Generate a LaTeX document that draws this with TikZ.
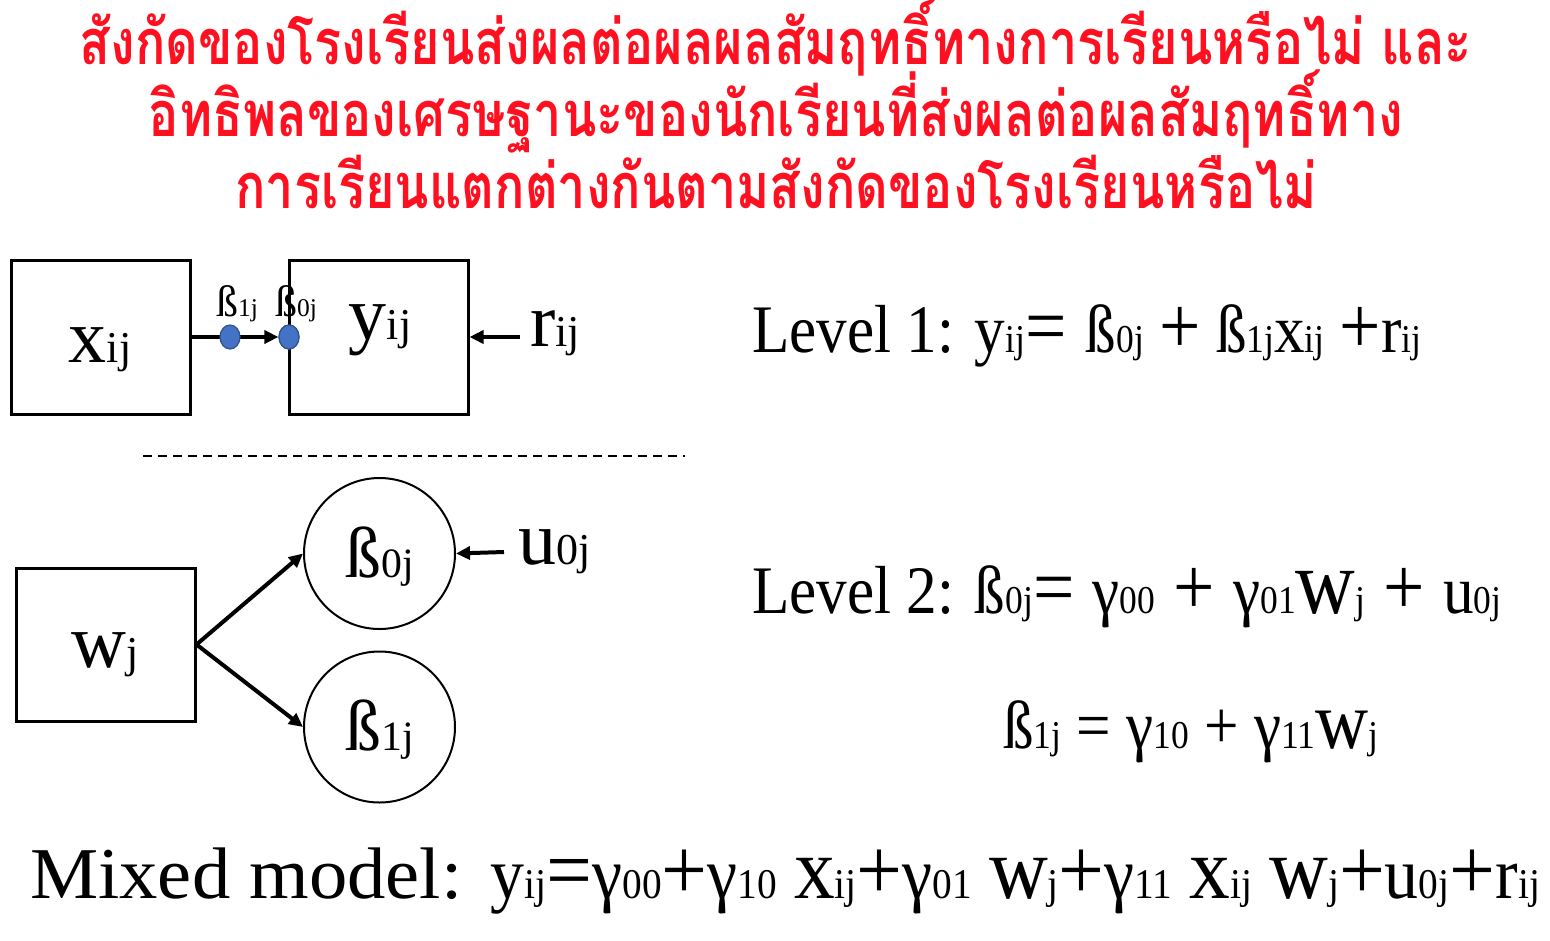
\documentclass[tikz,border=0pt]{standalone}
\usepackage{fontspec}
\usepackage{graphicx}
\setmainfont{Liberation Serif}
\newfontfamily\thaifont[Script=Thai,FakeStretch=0.8]{Loma}
\newfontfamily\eqfont[FakeStretch=0.9]{Liberation Serif}
\newfontfamily\mixfont[FakeStretch=0.93]{Liberation Serif}
\newfontfamily\mixlabfont[FakeStretch=1.05]{Liberation Serif}
\usetikzlibrary{arrows.meta,shapes.geometric}
\newcommand\sub[1]{\scalebox{0.58}{#1}}
\newcommand\bw[1]{\scalebox{1.2}{#1}}
\newcommand\bww[1]{\scalebox{1.35}{#1}}
\newcommand\op[1]{\raisebox{-0.02em}{\scalebox{1.2}{#1}}}
\definecolor{titlered}{HTML}{FF1020}
\definecolor{dotfill}{HTML}{4472C4}
\definecolor{dotline}{HTML}{2F528F}
\tikzset{
  titletext/.style={anchor=base,inner sep=0pt,text=titlered,font=\thaifont\bfseries\fontsize{63}{70}\selectfont},
  varbox/.style={draw,line width=3pt,minimum width=179pt,minimum height=154pt,inner sep=0pt},
  varcircle/.style={draw,circle,line width=2pt,minimum size=151pt,inner sep=0pt},
  bigvar/.style={font=\fontsize{76}{80}\selectfont,inner sep=0pt},
  smalllab/.style={font=\fontsize{44}{48}\selectfont,inner sep=0pt,anchor=base},
  dot/.style={ellipse,fill=dotfill,draw=dotline,line width=1.2pt,minimum width=20pt,minimum height=24pt,inner sep=0pt},
  arr/.style={line width=4pt,-{Triangle[length=14pt,width=13pt]}},
  eqtext/.style={anchor=base west,inner sep=0pt,font=\eqfont\fontsize{68}{72}\selectfont},
}
\begin{document}
\begin{tikzpicture}[x=1pt,y=-1pt]
\useasboundingbox (0,0) rectangle (1550,940);
% title
\node[titletext] (t1) at (776,64) {สังกัดของโรงเรียนส่งผลต่อผลผลสัมฤทธิ์ทางการเรียนหรือไม่ และ};
\node[titletext] (t2) at (776,136) {อิทธิพลของเศรษฐานะของนักเรียนที่ส่งผลต่อผลสัมฤทธิ์ทาง};
\node[titletext] (t3) at (776,208) {การเรียนแตกต่างกันตามสังกัดของโรงเรียนหรือไม่};
% level 1 diagram
\node[varbox] (x) at (100.5,337) {};
\node[bigvar] (xl) at (100,350) {x\sub{ij}};
\node[varbox] (y) at (378.5,337) {};
\node[bigvar] (yl) at (380,330) {y\sub{ij}};
\node[dot] (d2) at (289,337) {};
\draw[arr] (x.east) -- (d2.west);
\node[dot] (d1) at (230,337) {};
\node[dot] at (289,337) {};
\node[smalllab] (b1l) at (237,316) {ß\sub{1j}};
\node[smalllab] (b0l) at (296,316) {ß\sub{0j}};
\node[bigvar,anchor=west,inner xsep=0pt] (r) at (530,333) {r\sub{ij}};
\coordinate (rs) at (520,337);
\draw[arr] (rs) -- (y.east);
% separator
\coordinate (s1) at (143,456);
\coordinate (s2) at (685,456);
\draw[line width=2pt,dash pattern=on 9pt off 6pt] (s1) -- (s2);
% level 2 diagram
\node[varbox,minimum height=153pt] (w) at (105.5,644.5) {};
\node[bigvar] (wl) at (105,655) {w\sub{j}};
\node[varcircle] (b0) at (379.5,553.5) {};
\node[bigvar,font=\fontsize{72}{76}\selectfont] (b0t) at (379.5,557) {ß\sub{0j}};
\node[varcircle] (b1) at (379.5,727) {};
\node[bigvar,font=\fontsize{72}{76}\selectfont] (b1t) at (379.5,730) {ß\sub{1j}};
\draw[arr] (w.east) -- (b0.west);
\draw[arr] (w.east) -- (b1.west);
\node[bigvar,anchor=west] (u) at (518,552) {u\sub{0j}};
\coordinate (us) at (504,552);
\draw[arr] (us) -- (b0.east);
% equations
\node[eqtext] (e1) at (752,352) {Level 1: y\sub{ij}\op{=}\hspace{4pt} ß\sub{0j} \op{+} ß\sub{1j}x\sub{ij} \op{+}r\sub{ij}};
\node[eqtext] (e2) at (752,613) {Level 2: ß\sub{0j}\op{=}\hspace{3pt} γ\sub{00}\hspace{3pt} \op{+}\hspace{3pt} γ\sub{01}\bww{w}\sub{j}\hspace{3pt} \op{+}\hspace{3pt} u\sub{0j}};
\node[eqtext] (e3) at (1003,748) {ß\sub{1j} = γ\sub{10} + γ\sub{11}\bw{w}\sub{j}};
\node[anchor=base west,inner sep=0pt,font=\fontsize{73}{78}\selectfont] (e4) at (30,898) {{\mixlabfont Mixed model:}\hspace{4pt} {\mixfont y\sub{ij}\op{=}γ\sub{00}\op{+}γ\sub{10} \bw{x}\sub{ij}\op{+}γ\sub{01} \bw{w}\sub{j}\op{+}γ\sub{11} \bw{x}\sub{ij} \bw{w}\sub{j}\op{+}u\sub{0j}\op{+}r\sub{ij}}};
\end{tikzpicture}
\end{document}
